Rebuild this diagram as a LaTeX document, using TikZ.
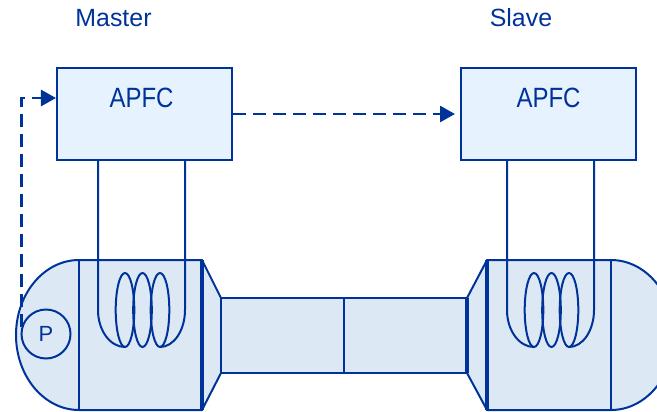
\documentclass[tikz,border=0pt]{standalone}
\usepackage{fontspec}
\setmainfont{Liberation Sans}
\newfontfamily\apfcfont[FakeStretch=0.86]{Liberation Sans}
\usetikzlibrary{positioning}
\usetikzlibrary{arrows.meta}
\definecolor{lineblue}{RGB}{0,51,153}
\definecolor{boxfill}{RGB}{230,243,255}
\definecolor{bodyfill}{RGB}{220,233,245}
\tikzset{
    apfcbox/.style = {rectangle, draw=lineblue, line width=2bp, fill=boxfill, minimum width=175bp, minimum height=92bp, inner sep=0pt, text=lineblue, font=\apfcfont\fontsize{28}{30}\selectfont, text height=20bp, text depth=33bp},
    rolelabel/.style = {text=lineblue, inner sep=0pt, font=\fontsize{25}{28}\selectfont},
    pnode/.style = {circle, draw=lineblue, line width=2bp, fill=bodyfill, minimum size=49bp, inner sep=0pt, text=lineblue, font=\fontsize{22}{24}\selectfont},
    body/.style = {draw=lineblue, line width=2bp, fill=bodyfill, line join=round},
    wire/.style = {draw=lineblue, line width=2bp},
    wireth/.style = {draw=lineblue, line width=3.5bp},
    edged/.style = {-{Triangle[length=15bp,width=16bp]}, draw=lineblue, line width=2.6bp, dash pattern=on 13bp off 7bp}, % signal
}

\begin{document}
\begin{tikzpicture}[x=1bp, y=-1bp]
\useasboundingbox (0,0) rectangle (657,411);
\clip (0,0) rectangle (657,411);
%
\node[apfcbox, label={[rolelabel, xshift=-31bp, label distance=40bp]above:Master}] at (144.5,114) (master) {\hspace*{-6bp}APFC};
\node[apfcbox, label={[rolelabel, xshift=-27.5bp, label distance=40bp]above:Slave}] at (548.5,114) (slave) {APFC};
%
% left end
\path[body] (79,260) -- (202,260) -- (202,410) -- (79,410) arc[start angle=90, end angle=270, x radius=63, y radius=75] -- cycle;
\draw[wire] (79,260) -- (79,410);
\path[body] (202,260) -- (221,298) -- (221,373) -- (202,410) -- cycle;
% tube
\path[body] (221,298) rectangle (467,373);
\draw[wire] (344,298) -- (344,373);
% right end
\path[body] (467,298) -- (487,260) -- (487,410) -- (467,373) -- cycle;
\path[body] (487,260) -- (611,260) arc[start angle=-90, end angle=90, x radius=63, y radius=75] -- (487,410) -- cycle;
\draw[wire] (611,260) -- (611,410);
\draw[wireth] (202,260) -- (202,410);
\draw[wireth] (467,298) -- (467,373);
\draw[wireth] (487,260) -- (487,410);
%
% coils
\foreach \unit/\dx in {master/0, slave/409} {
  \draw[wire] (\unit.south -| 98+\dx,0) -- (98+\dx,310) arc[start angle=180, end angle=90, x radius=27, y radius=37];
  \draw[wire] (160+\dx,347) arc[start angle=90, end angle=0, x radius=25, y radius=37] -- (\unit.south -| 185+\dx,0);
  \foreach \cx in {125,142.5,160}
    \draw[wire] (\cx+\dx,310) ellipse[x radius=9.3, y radius=37];
}
%
\node[pnode] at (46,334) (p) {P};
%
\draw[edged] (p.165) |- ([yshift=16bp]master.west);
\draw[edged, shorten >=5bp] (master.east) -- (slave.west);

\end{tikzpicture}
\end{document}
